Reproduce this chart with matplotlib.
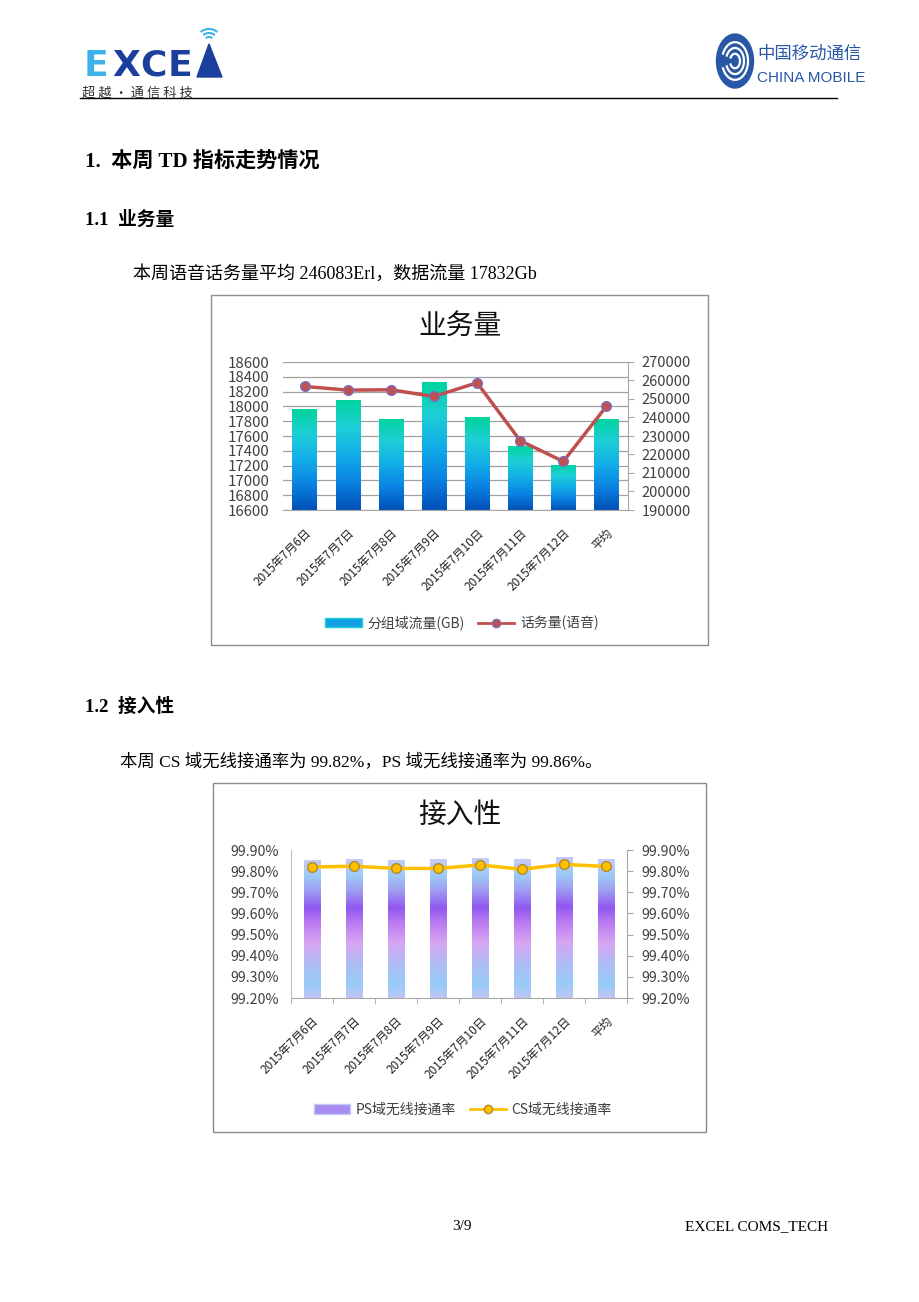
import numpy as np
import matplotlib
matplotlib.use("Agg")
import matplotlib.pyplot as plt
from matplotlib.colors import LinearSegmentedColormap
from matplotlib.patches import Rectangle, Ellipse, Polygon, Arc
from matplotlib.lines import Line2D

# ---- 数据 ----
dates = ['2015年7月6日', '2015年7月7日', '2015年7月8日', '2015年7月9日',
         '2015年7月10日', '2015年7月11日', '2015年7月12日', '平均']
traffic_gb = [17967, 18089, 17835, 18329, 17853, 17469, 17211, 17832]
voice_erl = [256790, 254800, 254980, 251360, 258780, 227470, 216245, 246083]
ps_rate = [99.853, 99.856, 99.853, 99.856, 99.861, 99.856, 99.865, 99.856]
cs_rate = [99.820, 99.823, 99.813, 99.813, 99.829, 99.809, 99.832, 99.822]

CJK = ['Noto Sans CJK SC', 'DejaVu Sans']
SERIF = ['Liberation Serif', 'Noto Sans CJK SC']
plt.rcParams['font.family'] = CJK

W, H = 920, 1302
fig = plt.figure(figsize=(W / 100, H / 100), dpi=100)


def fx(x):
    return x / W


def fy(y):
    return 1 - y / H


def txt(x, y, s, **kw):
    fig.text(fx(x), fy(y), s, **kw)


def box(x0, y0, x1, y1, **kw):
    fig.patches.append(Rectangle((fx(x0), fy(y1)), (x1 - x0) / W, (y1 - y0) / H,
                                 transform=fig.transFigure, **kw))


def gradient_bars(ax, x, heights, bottom, width, cmap):
    bars = ax.bar(x, np.array(heights) - bottom, width, bottom=bottom,
                  color='none', edgecolor='none', zorder=2)
    grad = np.linspace(1, 0, 256).reshape(-1, 1)
    for b in bars:
        x0, y0 = b.get_x(), b.get_y()
        im = ax.imshow(grad, cmap=cmap, aspect='auto', origin='upper', zorder=2,
                       extent=[x0, x0 + b.get_width(), y0, y0 + b.get_height()])
        im.set_clip_path(b)
    return bars


# ---- 页眉 ----
logo_cols = ['#3db1ea', '#1b3f9c', '#1b3f9c', '#1b3f9c']
for i, (ch, c) in enumerate(zip('EXCE', logo_cols)):
    txt(84 + i * 28, 76, ch, color=c, fontsize=26, fontweight='bold',
        family='DejaVu Sans', va='baseline')
fig.patches.append(Polygon([(fx(197), fy(77)), (fx(222), fy(77)), (fx(209), fy(44))],
                           closed=True, transform=fig.transFigure, color='#1b3f9c'))
for r in (5, 9, 13):
    fig.patches.append(Arc((fx(209), fy(42)), 2 * r / W, 2 * r / H, theta1=40, theta2=140,
                           transform=fig.transFigure, color='#3db1ea', lw=1.5))
txt(82, 97, '超 越 · 通 信 科 技', fontsize=9.5, color='#303030', va='baseline')

fig.patches.append(Ellipse((fx(735), fy(61)), 37 / W, 54 / H, transform=fig.transFigure,
                           color='#2a57a5'))
for r in (13, 9, 5):
    fig.patches.append(Arc((fx(735), fy(61)), 2 * r / W, 2.9 * r / H, theta1=200, theta2=520,
                           transform=fig.transFigure, color='white', lw=1.6))
txt(757, 59, '中国移动通信', fontsize=12.5, color='#2a57a5', va='baseline')
txt(757, 82, 'CHINA MOBILE', fontsize=11, color='#2a57a5', va='baseline',
    family='Liberation Sans')
fig.add_artist(Line2D([fx(80), fx(837)], [fy(98), fy(98)], color='black', lw=1))

# ---- 正文 ----
txt(85, 168, '1.  本周 TD 指标走势情况', fontsize=15.2, fontweight='bold',
    family=SERIF, va='baseline')
txt(85, 225, '1.1  业务量', fontsize=13.5, fontweight='bold', family=SERIF, va='baseline')
txt(133, 279, '本周语音话务量平均 246083Erl，数据流量 17832Gb', fontsize=13,
    family=SERIF, va='baseline')
txt(85, 712, '1.2  接入性', fontsize=13.5, fontweight='bold', family=SERIF, va='baseline')
txt(120, 767, '本周 CS 域无线接通率为 99.82%，PS 域无线接通率为 99.86%。', fontsize=12.5,
    family=SERIF, va='baseline')
txt(452, 1230, '3/9', fontsize=11, family=SERIF, va='baseline')
txt(828, 1230, 'EXCEL COMS_TECH', fontsize=11, family=SERIF, va='baseline', ha='right')

x = np.arange(len(dates))
tick_col = '#404040'

# ---- 图1 业务量 ----
box(211, 295, 708, 645, fill=False, edgecolor='#8c8c8c', lw=1)
txt(460, 327, '业务量', fontsize=20, ha='center', va='center', color='#111111')
ax1 = fig.add_axes([fx(283), fy(510), (628 - 283) / W, (510 - 362) / H])
cmap1 = LinearSegmentedColormap.from_list('b1', ['#0050b6', '#0a82e2', '#12aee8',
                                                 '#1ecfd6', '#00d49c'])
gradient_bars(ax1, x, traffic_gb, 16600, 0.56, cmap1)
ax1.set_xlim(-0.5, 7.5)
ax1.set_ylim(16600, 18600)
ax1.set_yticks(np.arange(16600, 18601, 200))
ax1.grid(axis='y', color='#a0a0a0', lw=0.9, zorder=0)
ax1.set_axisbelow(True)
for s in ('top', 'left', 'right'):
    ax1.spines[s].set_visible(False)
ax1.spines['bottom'].set_color('#a8a8a8')
ax1.tick_params(axis='y', length=0, labelsize=10.8, labelcolor=tick_col, pad=10)
ax1.set_xticks(x)
ax1.set_xticklabels(dates, rotation=45, ha='right', rotation_mode='anchor',
                    fontsize=8.5, color='#202020')
ax1.tick_params(axis='x', length=0, pad=12)

ax1b = ax1.twinx()
ax1b.plot(x, voice_erl, color='#c0504d', lw=2.5, marker='o', ms=7,
          markerfacecolor='#c0504d', markeredgecolor='#7a6fc0', markeredgewidth=1, zorder=3)
ax1b.set_ylim(190000, 270000)
ax1b.set_yticks(np.arange(190000, 270001, 10000))
for s in ('top', 'left', 'bottom'):
    ax1b.spines[s].set_visible(False)
ax1b.spines['right'].set_color('#a8a8a8')
ax1b.tick_params(axis='y', length=4, color='#a8a8a8', labelsize=10.5, labelcolor=tick_col, pad=6)

h1 = [Rectangle((0, 0), 1, 1, facecolor='#12a0e4', edgecolor='#1ecfd6'),
      Line2D([], [], color='#c0504d', lw=2, marker='o', ms=6,
             markerfacecolor='#c0504d', markeredgecolor='#7a6fc0')]
fig.legend(h1, ['分组域流量(GB)', '话务量(语音)'], loc='center',
           bbox_to_anchor=(fx(462), fy(623)), ncol=2, frameon=False, fontsize=10,
           labelcolor='#404040', handlelength=2.6, columnspacing=1.0, handletextpad=0.4)

# ---- 图2 接入性 ----
box(213, 783, 706, 1132, fill=False, edgecolor='#8c8c8c', lw=1)
txt(460, 815, '接入性', fontsize=20, ha='center', va='center', color='#111111')
ax2 = fig.add_axes([fx(291), fy(998), (627 - 291) / W, (998 - 850) / H])
cmap2 = LinearSegmentedColormap.from_list('b2', [
    (0.0, '#c0c6f6'), (0.1, '#98ccf8'), (0.25, '#b0bcf4'), (0.4, '#d8a4f2'),
    (0.55, '#b878f0'), (0.65, '#9058f0'), (0.78, '#a0a0f2'), (0.88, '#9ccaf8'),
    (1.0, '#c8cbf6')])
gradient_bars(ax2, x, ps_rate, 99.2, 0.4, cmap2)
ax2.set_xlim(-0.5, 7.5)
ax2.set_ylim(99.2, 99.9)
ax2.set_yticks(np.arange(99.2, 99.901, 0.1))
ax2.set_yticklabels([f'{v:.2f}%' for v in np.arange(99.2, 99.901, 0.1)])
for s in ('top', 'right'):
    ax2.spines[s].set_visible(False)
ax2.spines['left'].set_color('#c0c0c0')
ax2.spines['bottom'].set_color('#a8a8a8')
ax2.tick_params(axis='y', length=0, labelsize=10.2, labelcolor=tick_col, pad=9)
ax2.set_xticks(x)
ax2.set_xticklabels(dates, rotation=45, ha='right', rotation_mode='anchor',
                    fontsize=8.5, color='#202020')
ax2.tick_params(axis='x', length=0, pad=12)
ax2.set_xticks(np.arange(-0.5, 8, 1), minor=True)
ax2.tick_params(axis='x', which='minor', length=4, color='#a8a8a8')

ax2b = ax2.twinx()
ax2b.plot(x, cs_rate, color='#ffc000', lw=2.5, marker='o', ms=7,
          markerfacecolor='#ffc000', markeredgecolor='#b08a30', markeredgewidth=1, zorder=3)
ax2b.set_ylim(99.2, 99.9)
ax2b.set_yticks(np.arange(99.2, 99.901, 0.1))
ax2b.set_yticklabels([f'{v:.2f}%' for v in np.arange(99.2, 99.901, 0.1)])
for s in ('top', 'left', 'bottom'):
    ax2b.spines[s].set_visible(False)
ax2b.spines['right'].set_color('#a8a8a8')
ax2b.tick_params(axis='y', length=4, color='#a8a8a8', labelsize=10.2, labelcolor=tick_col, pad=6)

h2 = [Rectangle((0, 0), 1, 1, facecolor='#a98cf2', edgecolor='#c4c8f6'),
      Line2D([], [], color='#ffc000', lw=2, marker='o', ms=6,
             markerfacecolor='#ffc000', markeredgecolor='#b08a30')]
fig.legend(h2, ['PS域无线接通率', 'CS域无线接通率'], loc='center',
           bbox_to_anchor=(fx(463), fy(1110)), ncol=2, frameon=False, fontsize=10,
           labelcolor='#404040', handlelength=2.6, columnspacing=1.0, handletextpad=0.4)

fig.savefig('out.png', dpi=100, facecolor='white')
